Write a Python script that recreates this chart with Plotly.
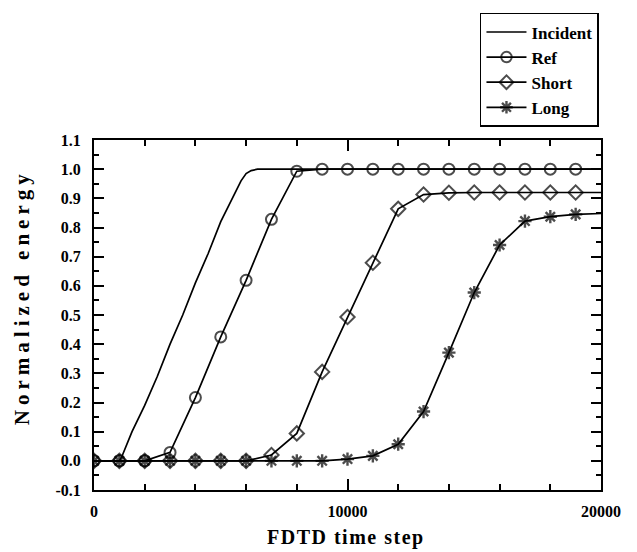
import plotly.graph_objects as go

# FDTD time steps at which the energy curves are sampled
steps = [0, 1000, 2000, 3000, 4000, 5000, 6000, 7000, 8000, 9000, 10000,
         11000, 12000, 13000, 14000, 15000, 16000, 17000, 18000, 19000, 20000]

ref_energy = [0.0, 0.0, 0.0, 0.029, 0.217, 0.425, 0.619, 0.828, 0.993, 1.0, 1.0,
              1.0, 1.0, 1.0, 1.0, 1.0, 1.0, 1.0, 1.0, 1.0, 1.0]
short_energy = [0.0, 0.0, 0.0, 0.0, 0.0, 0.0, 0.0, 0.02, 0.094, 0.305, 0.493,
                0.679, 0.864, 0.913, 0.919, 0.92, 0.92, 0.92, 0.92, 0.92, 0.92]
long_energy = [0.0, 0.0, 0.0, 0.0, 0.0, 0.0, 0.0, 0.0, 0.0, 0.0, 0.006,
               0.017, 0.057, 0.169, 0.371, 0.577, 0.740, 0.822, 0.837, 0.845, 0.848]

incident_steps = [0, 1000, 1100, 1500, 2000, 2500, 3000, 3500, 4000, 4500, 5000,
                  5500, 5800, 6000, 6200, 6450, 20000]
incident_energy = [0.0, 0.0, 0.015, 0.10, 0.19, 0.29, 0.40, 0.50, 0.61, 0.71, 0.82,
                   0.91, 0.96, 0.985, 0.995, 1.0, 1.0]

y_ticks = [-0.1, 0.0, 0.1, 0.2, 0.3, 0.4, 0.5, 0.6, 0.7, 0.8, 0.9, 1.0, 1.1]
y_labels = ["-0.1", "0.0", "0.1", "0.2", "0.3", "0.4", "0.5", "0.6",
            "0.7", "0.8", "0.9", "1.0", "1.1"]
x_ticks = [0, 10000, 20000]
x_labels = ["0", "10000", "20000"]

FONT = "Liberation Serif"
INK = "black"

# markers every 1000 steps, none on the final point at the right edge
marker_sizes = [11] * (len(steps) - 1) + [0]

fig = go.Figure()
fig.add_trace(go.Scatter(
    x=incident_steps, y=incident_energy, mode="lines", name="<b>Incident</b>",
    line=dict(color=INK, width=1.7)))
fig.add_trace(go.Scatter(
    x=steps, y=ref_energy, mode="lines+markers", name="<b>Ref</b>",
    line=dict(color=INK, width=1.7),
    marker=dict(symbol="circle-open", size=marker_sizes, color=INK,
                line=dict(width=2, color=INK))))
fig.add_trace(go.Scatter(
    x=steps, y=short_energy, mode="lines+markers", name="<b>Short</b>",
    line=dict(color=INK, width=1.7),
    marker=dict(symbol="diamond-open", size=marker_sizes, color=INK,
                line=dict(width=2, color=INK))))
fig.add_trace(go.Scatter(
    x=steps, y=long_energy, mode="lines+markers", name="<b>Long</b>",
    line=dict(color=INK, width=1.7),
    marker=dict(symbol="asterisk-open", size=marker_sizes, color=INK,
                line=dict(width=2.4, color=INK))))

axis_common = dict(
    showline=True, linewidth=2, linecolor=INK, mirror="ticks",
    ticks="inside", tickwidth=2, tickcolor=INK,
    showgrid=False, zeroline=False,
    tickfont=dict(family=FONT, size=16, color=INK),
)

fig.update_xaxes(
    range=[0, 20000], tickmode="array", tickvals=x_ticks,
    ticktext=[f"<b>{t}</b>" for t in x_labels],
    ticklen=11, ticklabelstandoff=6,
    minor=dict(dtick=2000, ticks="inside", ticklen=6, tickwidth=2, tickcolor=INK),
    **axis_common)
fig.update_yaxes(
    range=[-0.1, 1.1], tickmode="array", tickvals=y_ticks,
    ticktext=[f"<b>{t}</b>" for t in y_labels],
    ticklen=10, ticklabelstandoff=8,
    minor=dict(dtick=0.05, ticks="inside", ticklen=5, tickwidth=2, tickcolor=INK),
    **axis_common)

fig.add_annotation(
    text='<b><span style="letter-spacing:5px">Normalized energy</span></b>',
    xref="paper", yref="paper", x=-0.142, y=0.551, textangle=-90,
    showarrow=False, xanchor="center", yanchor="middle",
    font=dict(family=FONT, size=21, color=INK))
fig.add_annotation(
    text='<b><span style="letter-spacing:1.5px">FDTD time step</span></b>',
    xref="paper", yref="paper", x=0.497, y=-0.137,
    showarrow=False, xanchor="center", yanchor="middle",
    font=dict(family=FONT, size=20, color=INK))

fig.update_layout(
    width=637, height=552,
    margin=dict(l=94, r=36, t=140, b=62),
    paper_bgcolor="white", plot_bgcolor="white",
    showlegend=True,
    legend=dict(
        x=0.996, y=1.363, xanchor="right", yanchor="top",
        bordercolor=INK, borderwidth=1.5, bgcolor="white",
        font=dict(family=FONT, size=17, color=INK),
        tracegroupgap=0, itemwidth=40,
    ),
)

fig.write_html("out.html")
